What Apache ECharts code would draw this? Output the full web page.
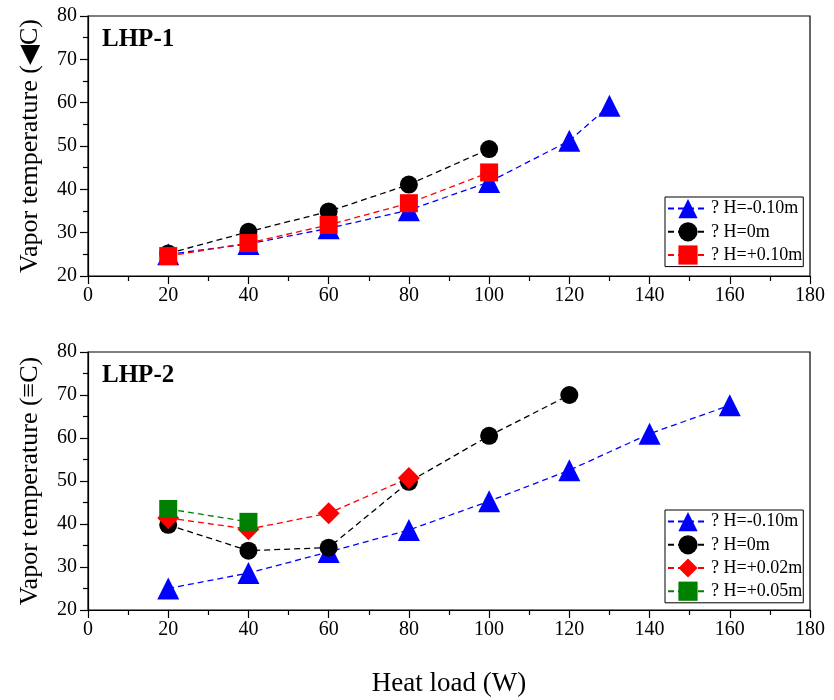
<!DOCTYPE html>
<html>
<head>
<meta charset="utf-8">
<script src="https://cdn.jsdelivr.net/npm/echarts@6/dist/echarts.min.js"></script>
<style>
  html, body { margin: 0; padding: 0; background: #fff; }
  #chart { width: 834px; height: 700px; }
</style>
</head>
<body>
<div id="chart"></div>
<script>
// Heat load (W) values
const loadsLHP1Neg = [20, 40, 60, 80, 100, 120, 130];
const loadsLHP1 = [20, 40, 60, 80, 100];
const loadsLHP2Neg = [20, 40, 60, 80, 100, 120, 140, 160];
const loadsLHP2Zero = [20, 40, 60, 80, 100, 120];
const loadsLHP2Plus02 = [20, 40, 60, 80];
const loadsLHP2Plus05 = [20, 40];

// Vapor temperature (°C), LHP-1
const lhp1Neg010 = [25.0, 27.4, 31.0, 35.2, 41.7, 51.2, 59.3];
const lhp1Zero = [25.2, 30.2, 34.9, 41.1, 49.3];
const lhp1Pos010 = [24.6, 27.6, 31.8, 36.8, 43.9];

// Vapor temperature (°C), LHP-2
const lhp2Neg010 = [25.0, 28.6, 33.5, 38.6, 45.3, 52.5, 61.0, 67.6];
const lhp2Zero = [39.8, 33.8, 34.5, 49.8, 60.5, 70.0];
const lhp2Pos002 = [41.4, 38.8, 42.5, 50.7];
const lhp2Pos005 = [43.5, 40.5];

const names1 = ['? H=-0.10m', '? H=0m', '? H=+0.10m'];
const names2 = ['? H=-0.10m', '? H=0m', '? H=+0.02m', '? H=+0.05m'];

const xTicks = { min: 0, max: 180, interval: 20 };
const yTicks = { min: 20, max: 80, interval: 10 };

const FONT = '"Liberation Serif", "Times New Roman", serif';

function pairs(xs, ys) { return xs.map((x, i) => [x, ys[i]]); }

function xAxisFor(gridIndex, withName) {
  return {
    type: 'value', gridIndex,
    min: xTicks.min, max: xTicks.max, interval: xTicks.interval,
    axisLine: { show: true, onZero: false, lineStyle: { color: '#000', width: 1.2 } },
    axisTick: { show: true, inside: false, length: 8, lineStyle: { color: '#000', width: 1.2 } },
    minorTick: { show: true, splitNumber: 2, length: 5, lineStyle: { color: '#000', width: 1.2 } },
    splitLine: { show: false },
    axisLabel: { color: '#000', fontFamily: FONT, fontSize: 20, margin: 10 },
    name: withName ? 'Heat load (W)' : '',
    nameLocation: 'middle',
    nameGap: 60,
    nameTextStyle: { color: '#000', fontFamily: FONT, fontSize: 27 }
  };
}

function yAxisFor(gridIndex, title) {
  return {
    type: 'value', gridIndex,
    min: yTicks.min, max: yTicks.max, interval: yTicks.interval,
    axisLine: { show: true, lineStyle: { color: '#000', width: 1.2 } },
    axisTick: { show: true, inside: false, length: 8, lineStyle: { color: '#000', width: 1.2 } },
    minorTick: { show: true, splitNumber: 2, length: 5, lineStyle: { color: '#000', width: 1.2 } },
    splitLine: { show: false },
    axisLabel: { color: '#000', fontFamily: FONT, fontSize: 20, margin: 11 },
    name: title,
    nameLocation: 'middle',
    nameRotate: 90,
    nameGap: 45,
    nameTextStyle: { color: '#000', fontFamily: FONT, fontSize: 26 }
  };
}

function line(name, xs, ys, idx, color, symbol, size) {
  return {
    name, type: 'line',
    xAxisIndex: idx, yAxisIndex: idx,
    data: pairs(xs, ys),
    symbol, symbolSize: size,
    showSymbol: true,
    lineStyle: { color, width: 1.3, type: [6, 4] },
    itemStyle: { color, borderWidth: 0 },
    emphasis: { disabled: true },
    animation: false
  };
}

const legendCommon = {
  orient: 'vertical',
  left: 665,
  itemWidth: 40,
  itemHeight: 24,
  itemGap: 4,
  padding: [2, 1, 2, 2],
  borderColor: '#000',
  borderWidth: 1,
  backgroundColor: '#fff',
  textStyle: { color: '#000', fontFamily: FONT, fontSize: 18, padding: [0, 0, 0, -2] },
  selectedMode: false
};

const chart = echarts.init(document.getElementById('chart'), null, { renderer: 'canvas' });

chart.setOption({
  backgroundColor: '#fff',
  animation: false,
  title: [
    { text: 'LHP-1', left: 97, top: 22,
      textStyle: { color: '#000', fontFamily: FONT, fontSize: 25, fontWeight: 'bold' } },
    { text: 'LHP-2', left: 97, top: 358,
      textStyle: { color: '#000', fontFamily: FONT, fontSize: 25, fontWeight: 'bold' } }
  ],
  grid: [
    { left: 88, right: 24, top: 16, height: 260, show: true, borderColor: '#000', borderWidth: 1.2, backgroundColor: 'transparent' },
    { left: 88, right: 24, top: 352, height: 258, show: true, borderColor: '#000', borderWidth: 1.2, backgroundColor: 'transparent' }
  ],
  xAxis: [xAxisFor(0, false), xAxisFor(1, true)],
  yAxis: [yAxisFor(0, 'Vapor temperature (◀C)'), yAxisFor(1, 'Vapor temperature (≡C)')],
  legend: [
    Object.assign({}, legendCommon, { top: 197, data: names1.map(n => ({ name: n })) }),
    Object.assign({}, legendCommon, { top: 510, data: names2.map(n => ({ name: n })) })
  ],
  series: [
    line(names1[0], loadsLHP1Neg, lhp1Neg010, 0, '#0000ff', 'triangle', 22),
    line(names1[1], loadsLHP1, lhp1Zero, 0, '#000000', 'circle', 18),
    line(names1[2], loadsLHP1, lhp1Pos010, 0, '#ff0000', 'rect', 18),
    line(names2[0], loadsLHP2Neg, lhp2Neg010, 1, '#0000ff', 'triangle', 22),
    line(names2[1], loadsLHP2Zero, lhp2Zero, 1, '#000000', 'circle', 18),
    line(names2[2], loadsLHP2Plus02, lhp2Pos002, 1, '#ff0000', 'diamond', 22),
    line(names2[3], loadsLHP2Plus05, lhp2Pos005, 1, '#008000', 'rect', 18)
  ]
});
</script>
</body>
</html>
